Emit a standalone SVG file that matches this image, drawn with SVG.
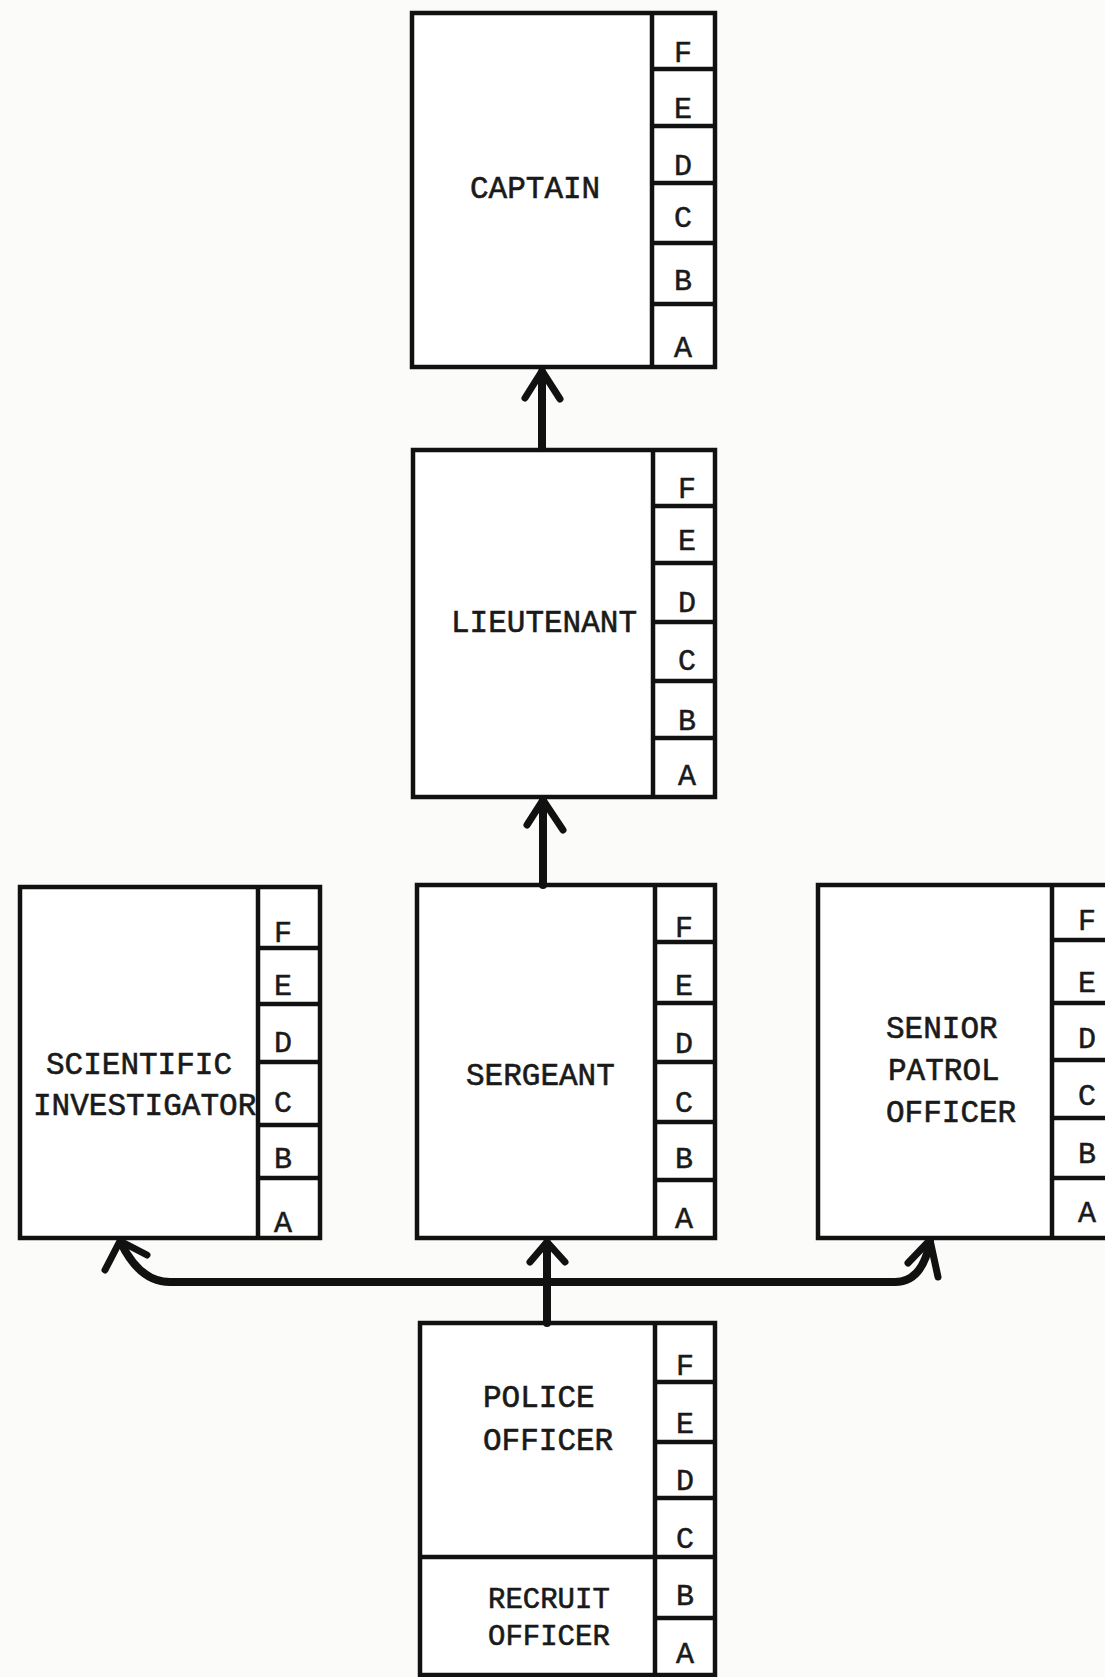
<svg xmlns="http://www.w3.org/2000/svg" width="1105" height="1677" viewBox="0 0 1105 1677">
<style>
.box{fill:#ffffff;stroke:#111;stroke-width:4.5}
.div{stroke:#111;stroke-width:4.5;fill:none}
.lbl{font-family:"Liberation Mono","DejaVu Sans Mono",monospace;font-size:31px;fill:#1a1a1a;stroke:#1a1a1a;stroke-width:0.6}
.cell{font-family:"Liberation Mono","DejaVu Sans Mono",monospace;font-size:30px;fill:#1a1a1a;stroke:#1a1a1a;stroke-width:0.5;text-anchor:middle}
.con{stroke:#111;stroke-width:8;fill:none;stroke-linecap:round;stroke-linejoin:round}
.head{stroke:#111;stroke-width:7;fill:none;stroke-linecap:round;stroke-linejoin:round}
</style>
<rect x="0" y="0" width="1105" height="1677" fill="#fbfbfa"/>

<g id="captain">
<rect class="box" x="412" y="13" width="303" height="354"/>
<path class="div" d="M652 13V367M652 69H715M652 126H715M652 183H715M652 243H715M652 304H715"/>
<text class="lbl" x="470" y="198">CAPTAIN</text>
<text class="cell" x="683" y="62">F</text>
<text class="cell" x="683" y="118">E</text>
<text class="cell" x="683" y="175">D</text>
<text class="cell" x="683" y="227">C</text>
<text class="cell" x="683" y="290">B</text>
<text class="cell" x="683" y="357">A</text>
</g>

<g id="lieutenant">
<rect class="box" x="413" y="450" width="302" height="347"/>
<path class="div" d="M653 450V797M653 506H715M653 563H715M653 622H715M653 681H715M653 738H715"/>
<text class="lbl" x="451" y="632">LIEUTENANT</text>
<text class="cell" x="687" y="498">F</text>
<text class="cell" x="687" y="550">E</text>
<text class="cell" x="687" y="612">D</text>
<text class="cell" x="687" y="670">C</text>
<text class="cell" x="687" y="730">B</text>
<text class="cell" x="687" y="785">A</text>
</g>

<g id="scientific-investigator">
<rect class="box" x="20" y="887" width="300" height="351"/>
<path class="div" d="M258 887V1238M258 948H320M258 1004H320M258 1062H320M258 1125H320M258 1178H320"/>
<text class="lbl" x="46" y="1074">SCIENTIFIC</text>
<text class="lbl" x="33" y="1115">INVESTIGATOR</text>
<text class="cell" x="283" y="942">F</text>
<text class="cell" x="283" y="995">E</text>
<text class="cell" x="283" y="1052">D</text>
<text class="cell" x="283" y="1112">C</text>
<text class="cell" x="283" y="1168">B</text>
<text class="cell" x="283" y="1232">A</text>
</g>

<g id="sergeant">
<rect class="box" x="417" y="885" width="298" height="353"/>
<path class="div" d="M655 885V1238M655 942H715M655 1003H715M655 1062H715M655 1122H715M655 1180H715"/>
<text class="lbl" x="466" y="1085">SERGEANT</text>
<text class="cell" x="684" y="937">F</text>
<text class="cell" x="684" y="995">E</text>
<text class="cell" x="684" y="1053">D</text>
<text class="cell" x="684" y="1112">C</text>
<text class="cell" x="684" y="1168">B</text>
<text class="cell" x="684" y="1228">A</text>
</g>

<g id="senior-patrol-officer">
<rect class="box" x="818" y="885" width="302" height="353"/>
<path class="div" d="M1052 885V1238M1052 940H1110M1052 1003H1110M1052 1060H1110M1052 1118H1110M1052 1178H1110"/>
<text class="lbl" x="886" y="1038">SENIOR</text>
<text class="lbl" x="888" y="1080">PATROL</text>
<text class="lbl" x="886" y="1122">OFFICER</text>
<text class="cell" x="1087" y="930">F</text>
<text class="cell" x="1087" y="992">E</text>
<text class="cell" x="1087" y="1048">D</text>
<text class="cell" x="1087" y="1105">C</text>
<text class="cell" x="1087" y="1163">B</text>
<text class="cell" x="1087" y="1222">A</text>
</g>

<g id="police-officer">
<rect class="box" x="420" y="1323" width="295" height="352"/>
<path class="div" d="M655 1323V1675M655 1382H715M655 1442H715M655 1498H715M420 1557H715M655 1618H715"/>
<text class="lbl" x="483" y="1407">POLICE</text>
<text class="lbl" x="483" y="1450">OFFICER</text>
<text class="lbl" x="488" y="1608" style="font-size:29px">RECRUIT</text>
<text class="lbl" x="488" y="1645" style="font-size:29px">OFFICER</text>
<text class="cell" x="685" y="1375">F</text>
<text class="cell" x="685" y="1433">E</text>
<text class="cell" x="685" y="1490">D</text>
<text class="cell" x="685" y="1548">C</text>
<text class="cell" x="685" y="1605">B</text>
<text class="cell" x="685" y="1663">A</text>
</g>

<g id="connectors">
<path class="con" d="M542 448V372"/>
<path class="head" d="M525 398L542 371L560 399"/>
<path class="con" d="M543 885V800"/>
<path class="head" d="M527 825L543 800L563 830"/>
<path class="con" d="M547 1323V1243"/>
<path class="head" d="M530 1262L547 1242L565 1262"/>
<path class="con" d="M121 1243Q140 1282 170 1282L895 1282Q922 1282 930 1242"/>
<path class="head" d="M105 1270L120 1241L147 1255"/>
<path class="head" d="M908 1263L930 1240L938 1277"/>
</g>
</svg>
